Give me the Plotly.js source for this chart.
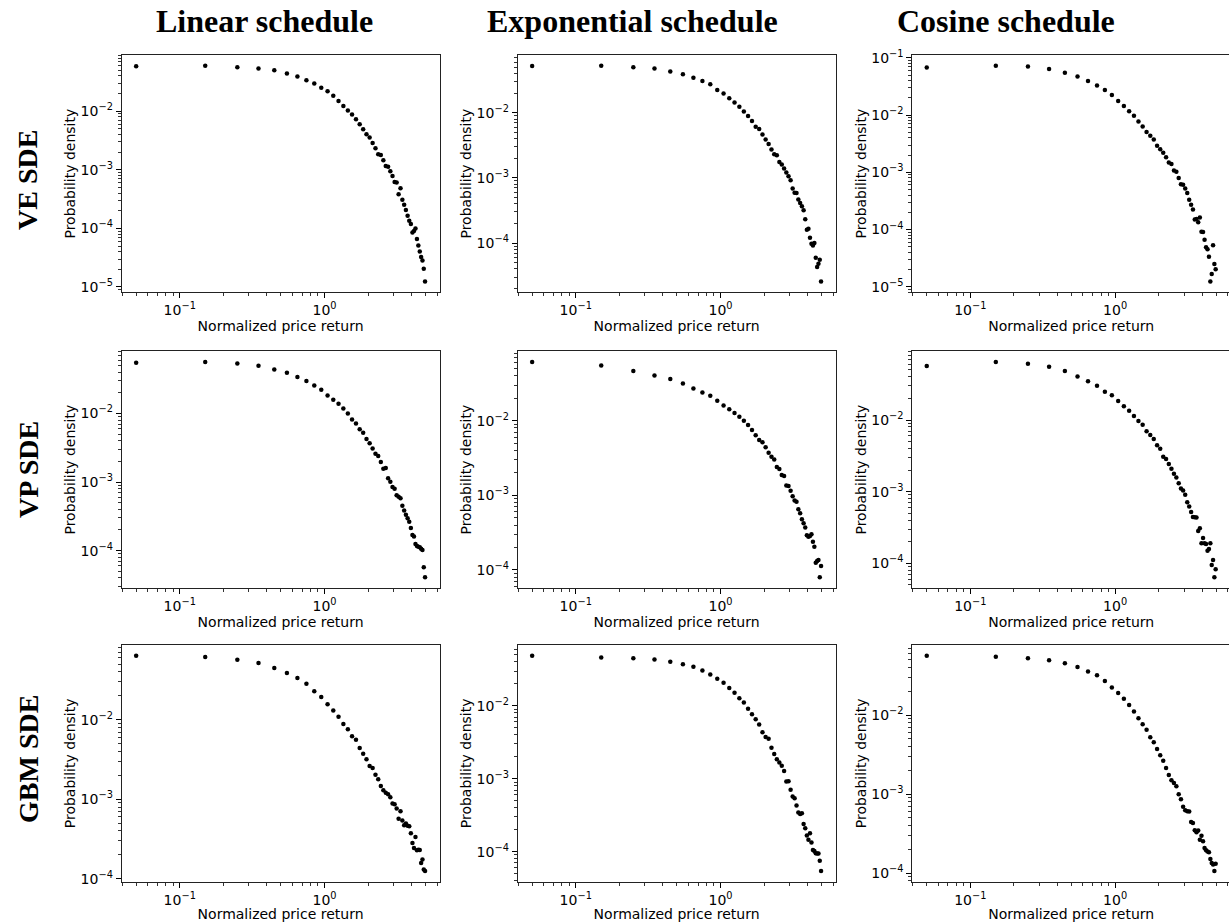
<!DOCTYPE html>
<html>
<head>
<meta charset="utf-8">
<script src="https://cdn.plot.ly/plotly-3.0.1.min.js"></script>
<style>
html, body { margin: 0; padding: 0; overflow: hidden; background: #ffffff; }
#chart { width: 1232px; height: 922px; }
</style>
</head>
<body>
<div id="chart"></div>
<script>
// ---- data ----
const returnBins = [0.05, 0.15, 0.25, 0.35, 0.45, 0.55, 0.65, 0.75, 0.85, 0.95,
  1.05, 1.15, 1.25, 1.35, 1.45, 1.55, 1.65, 1.75, 1.85, 1.95,
  2.05, 2.15, 2.25, 2.35, 2.45, 2.55, 2.65, 2.75, 2.85, 2.95,
  3.05, 3.15, 3.25, 3.35, 3.45, 3.55, 3.65, 3.75, 3.85, 3.95,
  4.05, 4.15, 4.25, 4.35, 4.45, 4.55, 4.65, 4.75, 4.85, 4.95];

const veLinear = [5.87e-2, 5.96e-2, 5.65e-2, 5.36e-2, 5.02e-2, 4.41e-2, 3.92e-2, 3.39e-2, 2.97e-2, 2.51e-2,
  2.20e-2, 1.83e-2, 1.50e-2, 1.23e-2, 1.03e-2, 8.77e-3, 7.29e-3, 6.00e-3, 4.92e-3, 4.05e-3,
  3.55e-3, 2.88e-3, 2.33e-3, 1.84e-3, 1.79e-3, 1.45e-3, 1.16e-3, 1.13e-3, 9.42e-4, 7.85e-4,
  6.19e-4, 6.10e-4, 3.81e-4, 4.83e-4, 3.09e-4, 2.54e-4, 2.06e-4, 1.65e-4, 1.35e-4, 1.19e-4,
  8.55e-5, 8.99e-5, 1.00e-4, 6.58e-5, 5.13e-5, 4.05e-5, 3.24e-5, 2.84e-5, 2.05e-5, 1.24e-5];
const veExponential = [5.22e-2, 5.25e-2, 4.98e-2, 4.75e-2, 4.28e-2, 3.89e-2, 3.45e-2, 3.07e-2, 2.73e-2, 2.23e-2,
  1.98e-2, 1.66e-2, 1.44e-2, 1.24e-2, 1.04e-2, 8.89e-3, 7.45e-3, 6.10e-3, 5.61e-3, 4.65e-3,
  3.89e-3, 3.30e-3, 2.73e-3, 2.31e-3, 2.23e-3, 1.76e-3, 1.60e-3, 1.39e-3, 1.21e-3, 1.06e-3,
  9.20e-4, 6.85e-4, 5.94e-4, 5.87e-4, 4.65e-4, 4.12e-4, 3.66e-4, 3.18e-4, 2.31e-4, 1.60e-4,
  1.66e-4, 1.21e-4, 9.77e-5, 9.20e-5, 1.00e-4, 5.94e-5, 4.28e-5, 4.81e-5, 5.55e-5, 2.57e-5];
const veCosine = [6.82e-2, 7.29e-2, 7.10e-2, 6.38e-2, 5.51e-2, 4.74e-2, 3.94e-2, 3.30e-2, 2.74e-2, 2.24e-2,
  1.76e-2, 1.44e-2, 1.17e-2, 9.73e-3, 7.74e-3, 6.34e-3, 5.05e-3, 4.35e-3, 3.75e-3, 2.91e-3,
  2.54e-3, 2.19e-3, 1.84e-3, 1.49e-3, 1.39e-3, 1.08e-3, 1.02e-3, 7.91e-4, 6.21e-4, 6.04e-4,
  5.21e-4, 4.33e-4, 3.30e-4, 2.70e-4, 2.24e-4, 1.50e-4, 1.52e-4, 1.34e-4, 1.62e-4, 9.10e-5,
  9.00e-5, 6.59e-5, 4.91e-5, 4.53e-5, 3.33e-5, 1.23e-5, 1.66e-5, 5.32e-5, 2.48e-5, 2.02e-5];

const vpLinear = [5.47e-2, 5.60e-2, 5.35e-2, 4.94e-2, 4.38e-2, 3.91e-2, 3.38e-2, 2.96e-2, 2.56e-2, 2.21e-2,
  1.83e-2, 1.58e-2, 1.38e-2, 1.18e-2, 1.00e-2, 8.18e-3, 7.14e-3, 5.85e-3, 5.22e-3, 4.23e-3,
  3.66e-3, 3.09e-3, 2.59e-3, 2.39e-3, 1.95e-3, 1.56e-3, 1.60e-3, 1.13e-3, 1.01e-3, 8.45e-4,
  8.00e-4, 6.40e-4, 6.11e-4, 5.78e-4, 4.52e-4, 3.83e-4, 3.34e-4, 2.96e-4, 2.64e-4, 2.14e-4,
  1.69e-4, 1.60e-4, 1.25e-4, 1.17e-4, 1.14e-4, 1.12e-4, 1.06e-4, 1.02e-4, 5.71e-5, 4.09e-5];
const vpExponential = [6.11e-2, 5.51e-2, 4.62e-2, 4.05e-2, 3.61e-2, 3.16e-2, 2.71e-2, 2.39e-2, 2.16e-2, 1.85e-2,
  1.60e-2, 1.42e-2, 1.27e-2, 1.13e-2, 1.00e-2, 8.75e-3, 7.50e-3, 6.37e-3, 5.51e-3, 5.13e-3,
  4.40e-3, 3.72e-3, 3.30e-3, 3.03e-3, 2.39e-3, 2.25e-3, 1.87e-3, 1.82e-3, 1.35e-3, 1.33e-3,
  1.15e-3, 9.70e-4, 8.49e-4, 8.22e-4, 6.49e-4, 5.74e-4, 4.78e-4, 4.22e-4, 3.69e-4, 2.91e-4,
  2.79e-4, 2.85e-4, 3.01e-4, 2.39e-4, 2.05e-4, 1.25e-4, 1.32e-4, 1.36e-4, 7.98e-5, 1.13e-4];
const vpCosine = [5.66e-2, 6.44e-2, 6.11e-2, 5.55e-2, 4.83e-2, 4.06e-2, 3.47e-2, 3.01e-2, 2.48e-2, 2.21e-2,
  1.84e-2, 1.55e-2, 1.35e-2, 1.14e-2, 9.68e-3, 8.61e-3, 6.95e-3, 6.18e-3, 5.43e-3, 4.44e-3,
  3.98e-3, 3.08e-3, 2.86e-3, 2.43e-3, 2.09e-3, 1.77e-3, 1.57e-3, 1.31e-3, 1.11e-3, 1.04e-3,
  9.08e-4, 7.10e-4, 6.18e-4, 5.20e-4, 4.44e-4, 4.39e-4, 4.34e-4, 2.82e-4, 3.08e-4, 1.90e-4,
  2.25e-4, 1.90e-4, 1.86e-4, 1.50e-4, 1.58e-4, 1.90e-4, 9.48e-5, 1.11e-4, 6.38e-5, 8.24e-5];

const gbmLinear = [6.35e-2, 6.12e-2, 5.66e-2, 5.14e-2, 4.46e-2, 3.85e-2, 3.33e-2, 2.83e-2, 2.27e-2, 1.93e-2,
  1.56e-2, 1.30e-2, 1.09e-2, 8.83e-3, 7.57e-3, 6.18e-3, 5.61e-3, 4.41e-3, 3.74e-3, 3.18e-3,
  2.62e-3, 2.47e-3, 2.04e-3, 1.78e-3, 1.47e-3, 1.30e-3, 1.21e-3, 1.16e-3, 1.06e-3, 8.83e-4,
  8.65e-4, 7.64e-4, 5.71e-4, 7.06e-4, 5.40e-4, 4.72e-4, 4.95e-4, 4.67e-4, 4.58e-4, 3.74e-4,
  2.83e-4, 2.45e-4, 3.37e-4, 2.29e-4, 2.33e-4, 2.31e-4, 1.59e-4, 1.75e-4, 1.31e-4, 1.26e-4];
const gbmExponential = [4.86e-2, 4.61e-2, 4.51e-2, 4.33e-2, 4.02e-2, 3.73e-2, 3.43e-2, 3.05e-2, 2.69e-2, 2.35e-2,
  2.07e-2, 1.75e-2, 1.51e-2, 1.27e-2, 1.11e-2, 9.10e-3, 7.69e-3, 6.56e-3, 5.55e-3, 4.35e-3,
  3.72e-3, 3.52e-3, 2.65e-3, 2.19e-3, 1.85e-3, 1.67e-3, 1.50e-3, 1.28e-3, 9.14e-4, 9.25e-4,
  7.03e-4, 5.69e-4, 5.40e-4, 4.29e-4, 3.43e-4, 3.29e-4, 3.36e-4, 2.40e-4, 2.09e-4, 1.66e-4,
  1.45e-4, 1.79e-4, 1.33e-4, 1.05e-4, 1.02e-4, 9.48e-5, 9.40e-5, 9.45e-5, 7.52e-5, 5.43e-5];
const gbmCosine = [5.61e-2, 5.46e-2, 5.20e-2, 4.91e-2, 4.50e-2, 4.04e-2, 3.56e-2, 3.17e-2, 2.69e-2, 2.23e-2,
  1.90e-2, 1.61e-2, 1.34e-2, 1.11e-2, 9.08e-3, 7.62e-3, 6.53e-3, 5.22e-3, 4.52e-3, 3.72e-3,
  3.10e-3, 2.65e-3, 2.14e-3, 1.75e-3, 1.50e-3, 1.38e-3, 1.26e-3, 1.00e-3, 8.61e-4, 6.95e-4,
  6.25e-4, 6.07e-4, 6.05e-4, 4.45e-4, 4.33e-4, 3.49e-4, 3.30e-4, 3.46e-4, 2.66e-4, 2.99e-4,
  2.54e-4, 2.09e-4, 1.95e-4, 1.88e-4, 1.84e-4, 1.52e-4, 1.35e-4, 1.29e-4, 1.07e-4, 1.32e-4];

const rowLabels = ['VE SDE', 'VP SDE', 'GBM SDE'];
const colLabels = ['Linear schedule', 'Exponential schedule', 'Cosine schedule'];
const xLabel = 'Normalized price return';
const yLabel = 'Probability density';

const grid = [
  [veLinear, veExponential, veCosine],
  [vpLinear, vpExponential, vpCosine],
  [gbmLinear, gbmExponential, gbmCosine]
];

// ---- layout geometry (pixels) ----
const W = 1232, H = 922;
const colPx = [[121.7, 439.5], [517.7, 835.5], [912.3, 1230.1]];
const rowPx = [[55, 292.3], [351.3, 588], [645, 881.7]];
const colTitleX = [264, 632, 1006];
const colTitleY = 21;
const rowLabelX = 28;
const rowLabelY = [180, 470, 759];

const FONT = 'DejaVu Sans, sans-serif';
const SERIF = 'Liberation Serif, DejaVu Serif, serif';

function logRange(vals) {
  const lv = vals.map(v => Math.log10(v));
  const lo = Math.min(...lv), hi = Math.max(...lv);
  const pad = 0.05 * (hi - lo);
  return [lo - pad, hi + pad];
}
function powText(e) {
  const s = e < 0 ? '\u2212' + (-e) : String(e);
  return '10<sup>' + s + '</sup>';
}
function logTicks(range) {
  const major = [], text = [], minor = [];
  for (let d = Math.floor(range[0]) - 1; d <= Math.ceil(range[1]); d++) {
    if (d >= range[0] - 1e-9 && d <= range[1] + 1e-9) { major.push(Math.pow(10, d)); text.push(powText(d)); }
    for (let m = 2; m <= 9; m++) {
      const lv = d + Math.log10(m);
      if (lv >= range[0] && lv <= range[1]) minor.push(m * Math.pow(10, d));
    }
  }
  return {major, text, minor};
}

function axisCommon(range, ticks) {
  return {
    type: 'log',
    range: range,
    autorange: false,
    tickmode: 'array',
    tickvals: ticks.major,
    ticktext: ticks.text,
    ticks: 'outside',
    ticklen: 5,
    tickwidth: 1,
    tickcolor: '#000',
    minor: {
      tickmode: 'array',
      tickvals: ticks.minor,
      ticks: 'outside',
      ticklen: 3,
      tickwidth: 0.8,
      tickcolor: '#000',
      showgrid: false
    },
    showgrid: false,
    zeroline: false,
    showline: true,
    mirror: true,
    linecolor: '#222',
    linewidth: 1,
    tickfont: {family: FONT, size: 14, color: '#000'},
    fixedrange: true
  };
}

const data = [];
const layout = {
  width: W,
  height: H,
  margin: {l: 0, r: 0, t: 0, b: 0},
  paper_bgcolor: '#fff',
  plot_bgcolor: '#fff',
  showlegend: false,
  font: {family: FONT, color: '#000'},
  annotations: []
};

const xRange = logRange(returnBins);
const xTicks = logTicks(xRange);

let n = 0;
for (let r = 0; r < 3; r++) {
  for (let c = 0; c < 3; c++) {
    n++;
    const sfx = n === 1 ? '' : String(n);
    const vals = grid[r][c];
    data.push({
      type: 'scatter',
      mode: 'markers',
      x: returnBins,
      y: vals,
      xaxis: 'x' + sfx,
      yaxis: 'y' + sfx,
      marker: {color: '#000', size: 4.5, line: {width: 0}},
      hoverinfo: 'x+y'
    });
    const yRange = logRange(vals);
    const yTicks = logTicks(yRange);
    const xa = axisCommon(xRange, xTicks);
    xa.domain = [colPx[c][0] / W, colPx[c][1] / W];
    xa.anchor = 'y' + sfx;
    xa.title = {text: xLabel, font: {family: FONT, size: 14, color: '#000'}, standoff: 0};
    const ya = axisCommon(yRange, yTicks);
    ya.domain = [1 - rowPx[r][1] / H, 1 - rowPx[r][0] / H];
    ya.anchor = 'x' + sfx;
    ya.title = {text: yLabel, font: {family: FONT, size: 14, color: '#000'}, standoff: 1};
    layout['xaxis' + sfx] = xa;
    layout['yaxis' + sfx] = ya;
  }
}

colLabels.forEach((t, i) => {
  layout.annotations.push({
    text: '<b>' + t + '</b>',
    xref: 'paper', yref: 'paper',
    x: colTitleX[i] / W, y: 1 - colTitleY / H,
    xanchor: 'center', yanchor: 'middle',
    showarrow: false,
    font: {family: SERIF, size: 32, color: '#000'}
  });
});
rowLabels.forEach((t, i) => {
  layout.annotations.push({
    text: '<b>' + t + '</b>',
    xref: 'paper', yref: 'paper',
    x: rowLabelX / W, y: 1 - rowLabelY[i] / H,
    xanchor: 'center', yanchor: 'middle',
    textangle: -90,
    showarrow: false,
    font: {family: SERIF, size: 28, color: '#000'}
  });
});

Plotly.newPlot('chart', data, layout, {displayModeBar: false, staticPlot: true});
</script>
</body>
</html>
